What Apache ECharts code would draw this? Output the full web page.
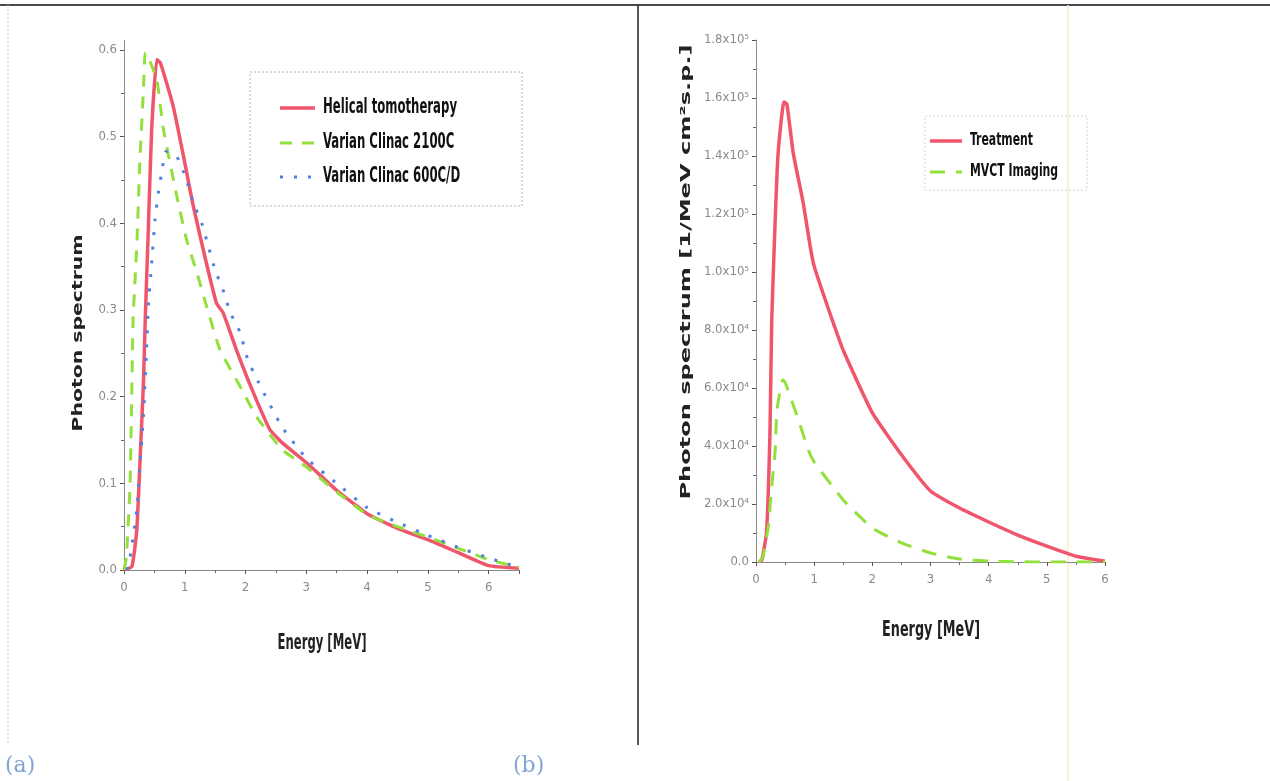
<!DOCTYPE html>
<html>
<head>
<meta charset="utf-8">
<script src="https://cdn.jsdelivr.net/npm/echarts@6/dist/echarts.min.js"></script>
<style>
  html, body { margin: 0; padding: 0; background: #ffffff; }
  #chart { width: 1270px; height: 781px; }
</style>
</head>
<body>
<div id="chart"></div>
<script>
// ---- Panel (a): photon spectra of three linac beams ----
const tomoEnergy   = [0, 0.13, 0.21, 0.26, 0.32, 0.35, 0.40, 0.455, 0.54, 0.60, 0.81, 1.0, 1.14, 1.52, 1.63, 1.85, 2.02, 2.18, 2.4, 2.6, 3.0, 3.5, 4.0, 4.5, 5.0, 5.5, 6.0, 6.5];
const tomoSpectrum = [0, 0.004, 0.046, 0.12, 0.216, 0.29, 0.393, 0.508, 0.589, 0.585, 0.535, 0.47, 0.42, 0.308, 0.297, 0.254, 0.223, 0.196, 0.162, 0.147, 0.124, 0.092, 0.065, 0.048, 0.035, 0.02, 0.005, 0.002];

const c2100Energy   = [0, 0.04, 0.10, 0.126, 0.15, 0.21, 0.26, 0.32, 0.35, 0.42, 0.54, 0.65, 0.87, 1.03, 1.2, 1.36, 1.58, 1.91, 2.18, 2.6, 3.0, 3.5, 4.0, 4.5, 5.0, 5.5, 6.0, 6.5];
const c2100Spectrum = [0, 0.015, 0.10, 0.196, 0.29, 0.373, 0.47, 0.554, 0.597, 0.588, 0.566, 0.508, 0.431, 0.381, 0.343, 0.304, 0.254, 0.212, 0.177, 0.139, 0.119, 0.09, 0.064, 0.05, 0.038, 0.025, 0.012, 0.003];

const c600Energy   = [0.05, 0.1, 0.21, 0.26, 0.32, 0.37, 0.40, 0.455, 0.51, 0.565, 0.62, 0.69, 0.87, 1.02, 1.14, 1.28, 1.39, 1.5, 1.63, 1.75, 1.91, 2.04, 2.21, 2.6, 3.0, 3.5, 4.0, 4.5, 5.0, 5.5, 6.0, 6.5];
const c600Spectrum = [0, 0.015, 0.069, 0.12, 0.177, 0.254, 0.304, 0.354, 0.404, 0.435, 0.458, 0.483, 0.477, 0.452, 0.424, 0.4, 0.373, 0.346, 0.323, 0.297, 0.274, 0.242, 0.217, 0.165, 0.129, 0.1, 0.072, 0.055, 0.04, 0.026, 0.014, 0.003];

const namesA = ['Helical tomotherapy', 'Varian Clinac 2100C', 'Varian Clinac 600C/D'];

// ---- Panel (b): treatment vs MVCT imaging beam ----
const treatEnergy   = [0.05, 0.1, 0.18, 0.24, 0.27, 0.33, 0.38, 0.48, 0.53, 0.64, 0.81, 0.93, 1.0, 1.25, 1.5, 2.0, 2.5, 3.0, 3.5, 4.0, 4.5, 5.0, 5.5, 6.0];
const treatSpectrum = [0, 700, 10000, 44500, 83000, 118000, 141000, 158600, 158000, 141000, 124000, 109000, 102000, 87000, 73000, 51400, 37000, 24500, 18600, 13800, 9300, 5500, 2000, 300];

const mvctEnergy   = [0.05, 0.12, 0.21, 0.27, 0.33, 0.36, 0.46, 0.5, 0.73, 0.9, 1.0, 1.5, 2.0, 2.5, 3.0, 3.5, 4.0, 4.5, 5.0, 5.5, 6.0];
const mvctSpectrum = [0, 1800, 12000, 26000, 38600, 52400, 62800, 62000, 49000, 38600, 34500, 21400, 11700, 6600, 3100, 1000, 300, 100, 0, 0, 0];

const namesB = ['Treatment', 'MVCT Imaging'];

// tick labels
const xTicksA = ['0', '1', '2', '3', '4', '5', '6'];
const yTicksA = ['0.0', '0.1', '0.2', '0.3', '0.4', '0.5', '0.6'];
const xTicksB = ['0', '1', '2', '3', '4', '5', '6'];
const yTicksB = ['0.0', '2.0x10\u2074', '4.0x10\u2074', '6.0x10\u2074', '8.0x10\u2074',
                 '1.0x10\u2075', '1.2x10\u2075', '1.4x10\u2075', '1.6x10\u2075', '1.8x10\u2075'];

const zip = (xs, ys) => xs.map((x, i) => [x, ys[i]]);

const RED = '#f0566b', GREEN = '#93e03c', BLUE = '#4f7fe0';
const COND = "'DejaVu Sans Condensed', 'Liberation Sans Narrow', sans-serif";

const styleA = [
  { color: RED,   width: 3.5, type: 'solid' },
  { color: GREEN, width: 3,   type: [12, 10] },
  { color: BLUE,  width: 3,   type: [3, 11] }
];
const styleB = [
  { color: RED,   width: 3.5, type: 'solid' },
  { color: GREEN, width: 3,   type: [15, 11] }
];

const axisLineStyle = { color: '#8a8a8a', width: 1 };
const tickLabel = { color: '#8a8a8a', fontFamily: COND, fontSize: 13 };

function xAxisCfg(gridIndex, max, labels) {
  return {
    type: 'value', gridIndex, min: 0, max, interval: 1,
    axisLine: { show: true, onZero: false, lineStyle: axisLineStyle },
    axisTick: { show: true, inside: false, length: 4, lineStyle: { color: '#555' } },
    minorTick: { show: true, splitNumber: 2, length: 3, lineStyle: { color: '#666' } },
    splitLine: { show: false },
    axisLabel: Object.assign({ margin: 11, formatter: v => labels[Math.round(v)] ?? '' }, tickLabel)
  };
}
function yAxisCfg(gridIndex, max, interval, labels) {
  return {
    type: 'value', gridIndex, min: 0, max, interval,
    axisLine: { show: true, onZero: false, lineStyle: axisLineStyle },
    axisTick: { show: true, inside: false, length: 4, lineStyle: { color: '#555' } },
    minorTick: { show: true, splitNumber: 2, length: 3, lineStyle: { color: '#666' } },
    splitLine: { show: false },
    axisLabel: Object.assign({ margin: 7, formatter: v => labels[Math.round(v / interval)] ?? '' }, tickLabel)
  };
}

function lineSeries(name, data, st, xi, yi) {
  return {
    type: 'line', name, data, xAxisIndex: xi, yAxisIndex: yi,
    showSymbol: false, symbol: 'none', smooth: 0.15,
    lineStyle: { color: st.color, width: st.width, type: st.type, cap: 'butt' },
    itemStyle: { color: st.color }
  };
}

// text squeezed/stretched along its writing direction
const measureCtx = document.createElement('canvas').getContext('2d');
function textWidth(text, font) { measureCtx.font = font; return measureCtx.measureText(text).width; }
function fittedText(text, font, x, y, targetLen, opts) {
  const o = opts || {};
  return {
    type: 'text', x, y,
    rotation: o.rotated ? Math.PI / 2 : 0,
    scaleX: targetLen / textWidth(text, font), scaleY: 1,
    style: { text, font, fill: o.color || '#222', align: o.align || 'center', verticalAlign: 'middle' },
    silent: true
  };
}

// key box: sample stroke plus condensed label for each series
function keyEntries(names, styles, x0, x1, textX, rows, font, firstWidth) {
  const s = firstWidth / textWidth(names[0], font);
  const out = [];
  names.forEach((n, i) => {
    const st = styles[i];
    out.push({
      type: 'line', shape: { x1: x0, y1: rows[i], x2: x1, y2: rows[i] },
      style: { stroke: st.color, lineWidth: st.width, lineDash: Array.isArray(st.type) ? st.type : null, lineCap: 'butt' },
      silent: true
    });
    out.push({
      type: 'text', x: textX, y: rows[i], scaleX: s, scaleY: 1,
      style: { text: n, font, fill: '#111', align: 'left', verticalAlign: 'middle' },
      silent: true
    });
  });
  return out;
}

const chart = echarts.init(document.getElementById('chart'), null, { renderer: 'canvas' });

const option = {
  backgroundColor: '#ffffff',
  animation: false,
  grid: [
    { left: 124, top: 50, width: 395, height: 520 },
    { left: 756, top: 40, width: 349, height: 522 }
  ],
  xAxis: [xAxisCfg(0, 6.5, xTicksA), xAxisCfg(1, 6, xTicksB)],
  yAxis: [yAxisCfg(0, 0.6, 0.1, yTicksA), yAxisCfg(1, 180000, 20000, yTicksB)],
  series: [
    lineSeries(namesA[0], zip(tomoEnergy, tomoSpectrum), styleA[0], 0, 0),
    lineSeries(namesA[1], zip(c2100Energy, c2100Spectrum), styleA[1], 0, 0),
    lineSeries(namesA[2], zip(c600Energy, c600Spectrum), styleA[2], 0, 0),
    lineSeries(namesB[0], zip(treatEnergy, treatSpectrum), styleB[0], 1, 1),
    lineSeries(namesB[1], zip(mvctEnergy, mvctSpectrum), styleB[1], 1, 1)
  ],
  graphic: [
    // frame lines of the figure
    { type: 'line', shape: { x1: 0, y1: 5, x2: 1270, y2: 5 }, style: { stroke: '#4a4a4a', lineWidth: 2 }, silent: true },
    { type: 'line', shape: { x1: 638, y1: 5, x2: 638, y2: 745 }, style: { stroke: '#222', lineWidth: 1.5 }, silent: true },
    { type: 'line', shape: { x1: 8, y1: 5, x2: 8, y2: 745 }, style: { stroke: '#c8c8c8', lineWidth: 1, lineDash: [2, 2] }, silent: true },
    { type: 'line', shape: { x1: 1068, y1: 5, x2: 1068, y2: 781 }, style: { stroke: '#f4f0bf', lineWidth: 1.5 }, silent: true },
    // upper stub of the left value axis
    { type: 'line', shape: { x1: 124.5, y1: 40, x2: 124.5, y2: 50 }, style: { stroke: '#8a8a8a', lineWidth: 1 }, silent: true },
    // key boxes
    { type: 'rect', shape: { x: 250, y: 72, width: 272, height: 134 }, style: { fill: 'none', stroke: '#b8b8b8', lineWidth: 1, lineDash: [2, 2] }, silent: true },
    { type: 'rect', shape: { x: 925, y: 116, width: 162, height: 74 }, style: { fill: 'none', stroke: '#d4d4d4', lineWidth: 1, lineDash: [2, 2] }, silent: true },
    ...keyEntries(namesA, styleA, 280, 315, 323, [108, 143, 177], "bold 21px " + COND, 134),
    ...keyEntries(namesB, styleB, 930, 962, 970, [141, 172], "bold 17px " + COND, 63),
    // axis titles
    fittedText('Photon spectrum', "bold 14px 'DejaVu Sans', sans-serif", 78, 333, 197, { rotated: true }),
    fittedText('Photon spectrum [1/MeV cm\u00B2s.p.]', "bold 14px 'DejaVu Sans', sans-serif", 686, 272, 455, { rotated: true }),
    fittedText('Energy [MeV]', "bold 22px " + COND, 322, 643, 89),
    fittedText('Energy [MeV]', "bold 22px " + COND, 931, 630, 98),
    // panel letters
    { type: 'text', x: 5, y: 766, style: { text: '(a)', font: "22px 'DejaVu Serif', 'Liberation Serif', serif", fill: '#7fa4d6', verticalAlign: 'middle' }, silent: true },
    { type: 'text', x: 513, y: 766, style: { text: '(b)', font: "22px 'DejaVu Serif', 'Liberation Serif', serif", fill: '#7fa4d6', verticalAlign: 'middle' }, silent: true }
  ]
};

chart.setOption(option);
</script>
</body>
</html>
